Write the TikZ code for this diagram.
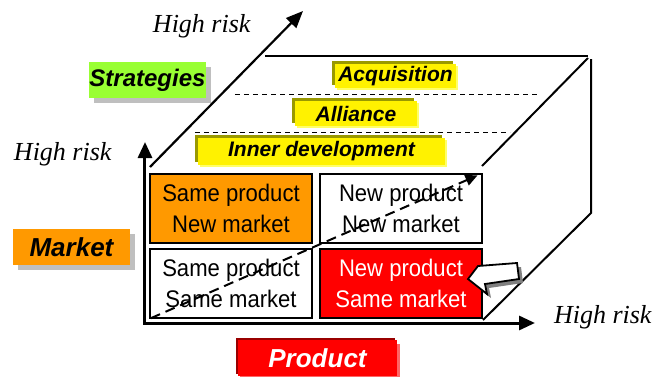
\documentclass[tikz,border=0pt]{standalone}
\usepackage{fontspec}
\setmainfont{Liberation Serif}
\newfontfamily\arial{Liberation Sans}
\newfontfamily\arialnarrow{Liberation Sans}[FakeStretch=0.92]
\usetikzlibrary{arrows.meta,shadows}
\definecolor{cellorange}{HTML}{FF9900}
\definecolor{taggreen}{HTML}{99FF33}
\definecolor{tagolive}{HTML}{999900}
\definecolor{tagpale}{HTML}{FFFF66}
\definecolor{tagdark}{HTML}{990000}
\definecolor{tagpink}{HTML}{FF6666}
\tikzset{
  risk/.style={anchor=base west, inner sep=0pt, font=\fontsize{26}{30}\selectfont\itshape},
  cell/.style={draw, line width=2pt, inner sep=0pt, minimum width=162pt, minimum height=69pt,
    align=center, font=\arialnarrow\fontsize{24}{31}\selectfont},
  badge/.style={inner sep=0pt, font=\arial\bfseries\itshape\fontsize{#1}{#1}\selectfont},
  greybadge/.style={badge=#1, general shadow={shadow xshift=5pt, shadow yshift=-5pt, fill=black!25}},
  yellowbadge/.style={badge=21, fill=yellow,
    general shadow={shadow xshift=-3pt, shadow yshift=3pt, fill=tagolive},
    general shadow={shadow xshift=2pt, shadow yshift=-2pt, fill=tagpale}}
}
\begin{document}
\begin{tikzpicture}[x=10pt, y=10pt, line width=2pt]
  \useasboundingbox (-14.5,-5.3) rectangle (52.5,32.3);
  % box behind the grid
  \draw (12.0,26.7) -- (44.3,26.7);
  \draw (44.3,26.5) -- (33.7,15.7);
  \draw (44.6,26.4) -- (44.6,11.0) -- (33.8,0.3);
  \draw[line width=1pt, dash pattern=on 5pt off 4pt] (9.0,22.9) -- (39.5,22.9);
  \draw[line width=1pt, dash pattern=on 5pt off 4pt] (5.0,19.1) -- (36.5,19.1);
  \node[yellowbadge, minimum width=121pt, minimum height=24pt] (acq) at (25.05,24.7) {Acquisition};
  \node[yellowbadge, minimum width=122pt, minimum height=25pt] (all) at (21.1,20.95) {Alliance};
  \node[yellowbadge, minimum width=247pt, minimum height=27pt] (inner) at (17.65,17.15) {Inner development};
  % grid
  \node[cell, fill=cellorange] (snew) at (8.6,11.45) {Same product\\New market};
  \node[cell, fill=white] (nnew) at (25.6,11.45) {New product\\New market};
  \node[cell, fill=white] (ssame) at (8.6,3.95) {Same product\\Same market};
  \node[cell, fill=red, text=white] (nsame) at (25.6,3.95) {New product\\Same market};
  \draw[->, >={Triangle[length=12pt,width=11pt]}, dash pattern=on 10pt off 6pt,
    shorten <=2pt, shorten >=6pt] (ssame.south west) -- (nnew.north east);
  % axes
  \draw[<->, >={Triangle[length=16pt,width=14pt]}, line width=3pt, line join=miter] (0,18.1) -- (0,0) -- (39.0,0);
  \draw[->, >={Triangle[length=17pt,width=14pt]}, line width=2.2pt] (0.5,15.6) -- (15.8,31.2);
  \node[risk] (riskup) at (0.7,29.1) {High risk};
  \node[risk] (riskleft) at (-13.2,16.3) {High risk};
  \node[risk] (riskright) at (40.8,0) {High risk};
  % pointer
  \fill[black!50, shift={(0.4,-0.4)}] (32.3,4.4) -- (33.3,5.7) -- (37.2,6.0) -- (37.4,4.4) -- (34.0,3.9) -- (34.2,2.9) -- cycle;
  \draw[fill=white, line width=1.8pt, line join=miter] (32.3,4.4) -- (33.3,5.7) -- (37.2,6.0) -- (37.4,4.4) -- (34.0,3.9) -- (34.2,2.9) -- cycle;
  % side labels
  \node[greybadge=24, fill=taggreen, minimum width=117pt, minimum height=36pt] (strat) at (0.25,24.3) {Strategies};
  \node[greybadge=26, fill=cellorange, minimum width=117pt, minimum height=36pt] (market) at (-7.35,7.6) {Market};
  \node[badge=26, fill=red, text=white, minimum width=159pt, minimum height=36pt,
    general shadow={shadow xshift=-2pt, shadow yshift=2pt, fill=tagdark},
    general shadow={shadow xshift=2.5pt, shadow yshift=-4pt, fill=tagpink}] (prod) at (17.25,-3.5) {Product};
\end{tikzpicture}
\end{document}
